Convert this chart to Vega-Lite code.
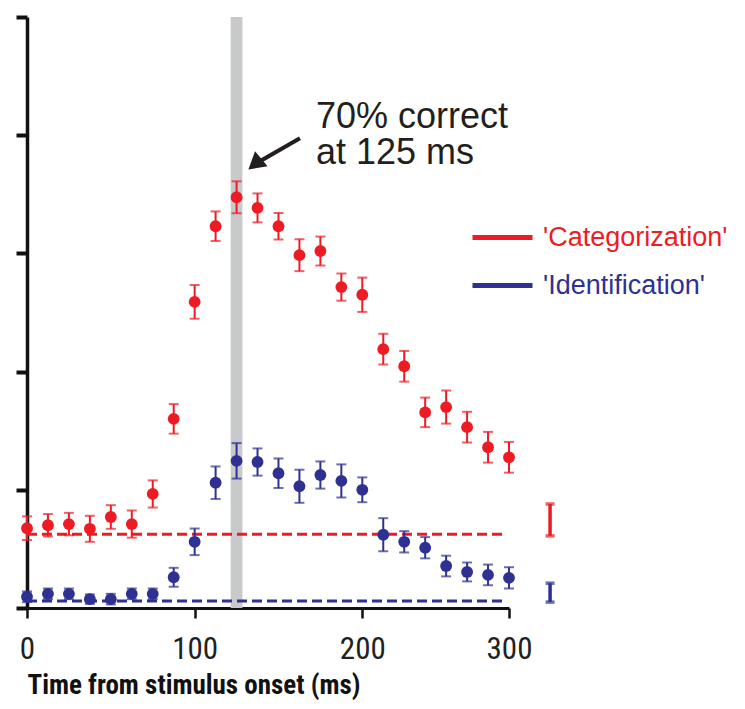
{
  "$schema": "https://vega.github.io/schema/vega-lite/v6.json",
  "width": 482,
  "height": 591,
  "autosize": {"type": "none"},
  "padding": {"left": 27, "top": 17, "right": 236, "bottom": 101},
  "background": "white",
  "config": {"view": {"stroke": null}},
  "datasets": {
    "pts": [
      {"t": 0, "series": "Categorization", "pct": 13.5, "err": 2.0},
      {"t": 12.5, "series": "Categorization", "pct": 14.0, "err": 1.9},
      {"t": 25, "series": "Categorization", "pct": 14.2, "err": 1.9},
      {"t": 37.5, "series": "Categorization", "pct": 13.4, "err": 2.2},
      {"t": 50, "series": "Categorization", "pct": 15.4, "err": 2.0},
      {"t": 62.5, "series": "Categorization", "pct": 14.2, "err": 2.3},
      {"t": 75, "series": "Categorization", "pct": 19.3, "err": 2.3},
      {"t": 87.5, "series": "Categorization", "pct": 32.0, "err": 2.5},
      {"t": 100, "series": "Categorization", "pct": 51.8, "err": 2.85},
      {"t": 112.5, "series": "Categorization", "pct": 64.6, "err": 2.5},
      {"t": 125, "series": "Categorization", "pct": 69.5, "err": 2.7},
      {"t": 137.5, "series": "Categorization", "pct": 67.7, "err": 2.45},
      {"t": 150, "series": "Categorization", "pct": 64.6, "err": 2.25},
      {"t": 162.5, "series": "Categorization", "pct": 59.7, "err": 2.7},
      {"t": 175, "series": "Categorization", "pct": 60.4, "err": 2.45},
      {"t": 187.5, "series": "Categorization", "pct": 54.3, "err": 2.3},
      {"t": 200, "series": "Categorization", "pct": 53.0, "err": 2.9},
      {"t": 212.5, "series": "Categorization", "pct": 43.8, "err": 2.6},
      {"t": 225, "series": "Categorization", "pct": 40.9, "err": 2.6},
      {"t": 237.5, "series": "Categorization", "pct": 33.1, "err": 2.5},
      {"t": 250, "series": "Categorization", "pct": 34.0, "err": 2.8},
      {"t": 262.5, "series": "Categorization", "pct": 30.6, "err": 2.6},
      {"t": 275, "series": "Categorization", "pct": 27.2, "err": 2.6},
      {"t": 287.5, "series": "Categorization", "pct": 25.5, "err": 2.6},
      {"t": 0, "series": "Identification", "pct": 1.9, "err": 0.9},
      {"t": 12.5, "series": "Identification", "pct": 2.4, "err": 0.9},
      {"t": 25, "series": "Identification", "pct": 2.4, "err": 0.9},
      {"t": 37.5, "series": "Identification", "pct": 1.5, "err": 0.8},
      {"t": 50, "series": "Identification", "pct": 1.5, "err": 0.9},
      {"t": 62.5, "series": "Identification", "pct": 2.4, "err": 0.9},
      {"t": 75, "series": "Identification", "pct": 2.4, "err": 0.9},
      {"t": 87.5, "series": "Identification", "pct": 5.2, "err": 1.6},
      {"t": 100, "series": "Identification", "pct": 11.2, "err": 2.25},
      {"t": 112.5, "series": "Identification", "pct": 21.2, "err": 2.75},
      {"t": 125, "series": "Identification", "pct": 24.9, "err": 3.0},
      {"t": 137.5, "series": "Identification", "pct": 24.7, "err": 2.3},
      {"t": 150, "series": "Identification", "pct": 22.8, "err": 2.5},
      {"t": 162.5, "series": "Identification", "pct": 20.6, "err": 2.8},
      {"t": 175, "series": "Identification", "pct": 22.5, "err": 2.3},
      {"t": 187.5, "series": "Identification", "pct": 21.5, "err": 2.8},
      {"t": 200, "series": "Identification", "pct": 20.0, "err": 2.1},
      {"t": 212.5, "series": "Identification", "pct": 12.4, "err": 2.8},
      {"t": 225, "series": "Identification", "pct": 11.2, "err": 1.8},
      {"t": 237.5, "series": "Identification", "pct": 10.2, "err": 1.8},
      {"t": 250, "series": "Identification", "pct": 7.1, "err": 1.75},
      {"t": 262.5, "series": "Identification", "pct": 6.1, "err": 1.6},
      {"t": 275, "series": "Identification", "pct": 5.6, "err": 1.75},
      {"t": 287.5, "series": "Identification", "pct": 5.1, "err": 1.8}
    ],
    "baseline": [
      {"series": "Categorization", "pct": 12.5, "t0": 0, "t1": 285},
      {"series": "Identification", "pct": 1.2, "t0": 0, "t1": 285}
    ],
    "chance": [
      {"series": "Categorization", "t": 312, "pct": 14.9, "err": 2.7},
      {"series": "Identification", "t": 312, "pct": 2.6, "err": 1.6}
    ],
    "window": [{"t0": 121.5, "t1": 128.5, "p0": 0, "p1": 100}],
    "note": [{"t": 172.4, "pct": 81.2, "text": ["70% correct", "at 125 ms"]}],
    "arrow": [{"t0": 162.8, "p0": 79.5, "t1": 135.9, "p1": 75.1}]
  },
  "layer": [
    {
      "data": {"name": "window"},
      "mark": {"type": "rect", "color": "#c8c9cb"},
      "encoding": {
        "x": {"field": "t0", "type": "quantitative", "scale": {"domain": [0, 287.5], "nice": false}, "axis": {
          "values": [0, 100, 200, 287.5],
          "labelExpr": "datum.value > 250 ? '300' : datum.label",
          "grid": false,
          "domainWidth": 3,
          "domainColor": "#111111",
          "tickColor": "#111111",
          "tickWidth": 2.5,
          "tickSize": 10,
          "labelFont": "Roboto Condensed",
          "labelFontSize": 31,
          "labelColor": "#222222",
          "labelPadding": 16,
          "labelOverlap": false,
          "labelFlush": false,
          "title": "Time from stimulus onset (ms)",
          "titleFont": "Roboto Condensed",
          "titleFontSize": 27,
          "titleFontWeight": "bold",
          "titleColor": "#111111",
          "titleAnchor": "start",
          "titleAlign": "left",
          "titlePadding": 8
        }},
        "x2": {"field": "t1"},
        "y": {"field": "p0", "type": "quantitative", "scale": {"domain": [0, 100], "nice": false}, "axis": {
          "values": [0, 20, 40, 60, 80, 100],
          "labels": false,
          "grid": false,
          "title": null,
          "tickSize": 11,
          "tickWidth": 4,
          "tickColor": "#111111",
          "domainWidth": 3.5,
          "domainColor": "#111111"
        }},
        "y2": {"field": "p1"}
      }
    },
    {
      "data": {"name": "baseline"},
      "mark": {"type": "rule", "strokeWidth": 3, "strokeDash": [10, 5]},
      "encoding": {
        "x": {"field": "t0", "type": "quantitative"},
        "x2": {"field": "t1"},
        "y": {"field": "pct", "type": "quantitative"},
        "color": {"field": "series", "type": "nominal"}
      }
    },
    {
      "data": {"name": "chance"},
      "mark": {"type": "errorbar", "ticks": true, "thickness": 3.5, "size": 9},
      "encoding": {
        "x": {"field": "t", "type": "quantitative"},
        "y": {"field": "pct", "type": "quantitative"},
        "yError": {"field": "err"},
        "color": {"field": "series", "type": "nominal"}
      }
    },
    {
      "data": {"name": "pts"},
      "mark": {"type": "errorbar", "ticks": true, "thickness": 2, "size": 10},
      "encoding": {
        "x": {"field": "t", "type": "quantitative"},
        "y": {"field": "pct", "type": "quantitative"},
        "yError": {"field": "err"},
        "color": {"field": "series", "type": "nominal"}
      }
    },
    {
      "data": {"name": "pts"},
      "mark": {"type": "point", "filled": true, "opacity": 1, "size": 140},
      "encoding": {
        "x": {"field": "t", "type": "quantitative"},
        "y": {"field": "pct", "type": "quantitative"},
        "color": {
          "field": "series",
          "type": "nominal",
          "scale": {"domain": ["Categorization", "Identification"], "range": ["#ED1C24", "#2E3192"]},
          "legend": {
            "title": null,
            "orient": "none",
            "legendX": 443,
            "legendY": 207,
            "padding": 0,
            "symbolType": "stroke",
            "symbolSize": 3600,
            "symbolStrokeWidth": 5,
            "symbolOpacity": 1,
            "clipHeight": 27,
            "rowPadding": 20,
            "labelOffset": 8,
            "labelFont": "Liberation Sans",
            "labelFontSize": 27,
            "labelLimit": 400,
            "labelColor": {"expr": "datum.value == 'Categorization' ? '#ED1C24' : '#2E3192'"},
            "labelExpr": "\"'\" + datum.label + \"'\"",
            "encode": {
              "symbols": {"update": {"stroke": {"scale": "color", "field": "value"}, "strokeWidth": {"value": 5}, "strokeDash": {"value": []}, "opacity": {"value": 1}}}
            }
          }
        }
      }
    },
    {
      "data": {"name": "arrow"},
      "mark": {"type": "rule", "strokeWidth": 4, "color": "#231f20"},
      "encoding": {
        "x": {"field": "t0", "type": "quantitative"},
        "y": {"field": "p0", "type": "quantitative"},
        "x2": {"field": "t1"},
        "y2": {"field": "p1"}
      }
    },
    {
      "data": {"name": "arrow"},
      "mark": {"type": "point", "shape": "triangle-up", "filled": true, "opacity": 1, "size": 380, "angle": 230, "color": "#231f20"},
      "encoding": {
        "x": {"field": "t1", "type": "quantitative"},
        "y": {"field": "p1", "type": "quantitative"}
      }
    },
    {
      "data": {"name": "note"},
      "mark": {"type": "text", "align": "left", "baseline": "alphabetic", "font": "Liberation Sans", "fontSize": 36, "lineHeight": 36, "color": "#231f20"},
      "encoding": {
        "x": {"field": "t", "type": "quantitative"},
        "y": {"field": "pct", "type": "quantitative"},
        "text": {"field": "text"}
      }
    }
  ]
}
